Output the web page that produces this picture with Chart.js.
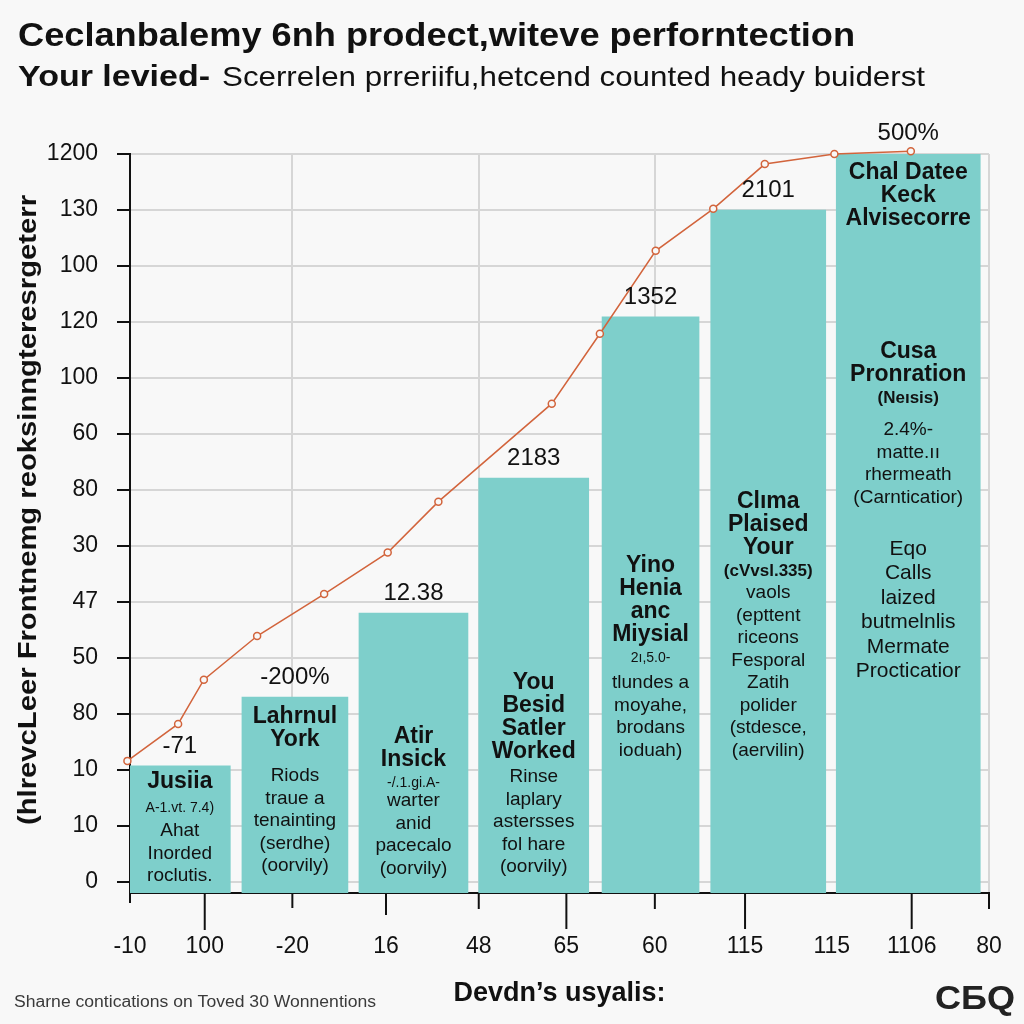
<!DOCTYPE html>
<html>
<head>
<meta charset="utf-8">
<script src="https://cdn.jsdelivr.net/npm/chart.js@4.4.0/dist/chart.umd.min.js"></script>
<style>
html, body { margin: 0; padding: 0; background: #f8f8f8; }
#wrap { width: 1024px; height: 1024px; }
</style>
</head>
<body>
<div id="wrap"><canvas id="chart" width="1024" height="1024"></canvas></div>
<script>
// ---- data ----
var yTickLabels = ["0", "10", "10", "80", "50", "47", "30", "80", "60", "100", "120", "100", "130", "1200"];
var xTickPos = [0, 8.7, 18.9, 29.8, 40.6, 50.8, 61.1, 71.6, 81.7, 91.0, 100];
var xTickLabels = ["-10", "100", "-20", "16", "48", "65", "60", "115", "115", "1106", "80"];

var barX = [5.8, 19.2, 33.0, 47.0, 60.6, 74.3, 90.6];
var barValues = [2.07, 3.30, 4.80, 7.21, 10.09, 12.0, 13.02];
var barLabels = ["-71", "-200%", "12.38", "2183", "1352", "2101", "500%"];

var lineX = [-0.3, 5.6, 8.6, 14.8, 22.6, 30.0, 35.9, 49.1, 54.7, 61.2, 67.9, 73.9, 82.0, 90.9];
var lineValues = [2.16, 2.82, 3.61, 4.39, 5.14, 5.88, 6.79, 8.54, 9.79, 11.27, 12.02, 12.82, 13.0, 13.05];

// text printed inside each bar (numbers = extra gap)
var barNotes = [
	[["h", "Jusiia"], 3, ["s", "A-1.vt. 7.4)"], 2, ["b", "Ahat"], ["b", "Inorded"], ["b", "roclutis."]],
	[["h", "Lahrnul"], ["h", "York"], 13, ["b", "Riods"], ["b", "traue a"], ["b", "tenainting"], ["b", "(serdhe)"], ["b", "(oorvily)"]],
	[["h", "Atir"], ["h", "Insick"], ["s", "-/.1.gi.A-"], -3, ["b", "warter"], ["b", "anid"], ["b", "pacecalo"], ["b", "(oorvily)"]],
	[["h", "You"], ["h", "Besid"], ["h", "Satler"], ["h", "Worked"], 2, ["b", "Rinse"], ["b", "laplary"], ["b", "astersses"], ["b", "fol hare"], ["b", "(oorvily)"]],
	[["h", "Yino"], ["h", "Henia"], ["h", "anc"], ["h", "Miysial"], ["s", "2ı,5.0-"], 4, ["b", "tlundes a"], ["b", "moyahe,"], ["b", "brodans"], ["b", "ioduah)"]],
	[["h", "Clıma"], ["h", "Plaised"], ["h", "Your"], ["hs", "(cVvsl.335)"], ["b", "vaols"], ["b", "(epttent"], ["b", "riceons"], ["b", "Fesporal"], ["b", "Zatih"], ["b", "polider"], ["b", "(stdesce,"], ["b", "(aervilin)"]],
	[["h", "Chal Datee"], ["h", "Keck"], ["h", "Alvisecorre"], 110, ["h", "Cusa"], ["h", "Pronration"], ["hs", "(Neısis)"], 10,
	 ["b", "2.4%-"], ["b", "matte.ıı"], ["b", "rhermeath"], ["b", "(Carnticatior)"], 29,
	 ["B", "Eqo"], ["B", "Calls"], ["B", "laized"], ["B", "butmelnlis"], ["B", "Mermate"], ["B", "Procticatior"]]
];

var titleText = "Ceclanbalemy 6nh prodect,witeve perforntection";
var subLead = "Your levied-";
var subText = "Scerrelen prreriifu,hetcend counted heady buiderst";
var yTitle = "(hlrevcLeer Frontnemg reoksinngteresrgeterr";
var xTitle = "Devdn\u2019s usyalis:";
var footText = "Sharne contications on Toved 30 Wonnentions";
var logoText = "C\u0411Q";

// ---- styles ----
var FONT = '"Liberation Sans", Arial, Helvetica, sans-serif';
var BAR_COLOR = '#7ecfcb';
var LINE_COLOR = '#d2643c';
var GRID_COLOR = '#d6d6d6';
var INK = '#111111';

var barPx = [101, 106, 109, 110, 97, 115, 144];
var noteTop = [16, 20, 124, 205, 249, 292, 20];
var xTickLen = [10, 37, 15, 22, 16, 36, 16, 36, 0, 36, 16];
var xGridShown = [2, 4, 6, 10];
var noteFonts = {
	h: ['bold 23px ' + FONT, 23],
	hs: ['bold 17px ' + FONT, 22],
	s: ['14px ' + FONT, 21],
	b: ['19px ' + FONT, 22.5],
	B: ['21px ' + FONT, 24.5]
};

Chart.defaults.font.family = FONT;

// draw text stretched/squeezed to a given width
function fitText(ctx, text, x, y, width) {
	var w = ctx.measureText(text).width;
	ctx.save();
	ctx.translate(x, y);
	ctx.scale(width / w, 1);
	ctx.fillText(text, 0, 0);
	ctx.restore();
}

var textPlugin = {
	id: 'texts',
	afterDatasetsDraw: function(chart) {
		var ctx = chart.ctx;
		ctx.save();
		ctx.fillStyle = INK;
		ctx.textAlign = 'center';
		ctx.textBaseline = 'middle';
		for (var i = 0; i < barX.length; i++) {
			var el = chart.getDatasetMeta(i + 1).data[0];
			ctx.font = '24px ' + FONT;
			ctx.fillText(barLabels[i], el.x, el.y - 20);
			var y = el.y + noteTop[i];
			barNotes[i].forEach(function(n) {
				if (typeof n === 'number') { y += n; return; }
				ctx.font = noteFonts[n[0]][0];
				ctx.fillText(n[1], el.x, y);
				y += noteFonts[n[0]][1];
			});
		}
		ctx.restore();
	},
	afterDraw: function(chart) {
		var ctx = chart.ctx;
		var xs = chart.scales.x;
		var bottom = chart.chartArea.bottom;
		ctx.save();
		// x tick marks of different lengths
		ctx.strokeStyle = INK;
		ctx.lineWidth = 2;
		xTickPos.forEach(function(v, i) {
			if (!xTickLen[i]) return;
			var px = xs.getPixelForValue(v);
			ctx.beginPath();
			ctx.moveTo(px, bottom);
			ctx.lineTo(px, bottom + xTickLen[i]);
			ctx.stroke();
		});
		ctx.textAlign = 'left';
		ctx.textBaseline = 'middle';
		ctx.fillStyle = INK;
		ctx.font = 'bold 33px ' + FONT;
		fitText(ctx, titleText, 18, 37, 837);
		ctx.font = 'bold 29px ' + FONT;
		fitText(ctx, subLead, 18, 78, 192);
		ctx.font = '28px ' + FONT;
		fitText(ctx, subText, 222, 78, 703);
		// y axis title
		ctx.save();
		ctx.translate(29, 510);
		ctx.rotate(-Math.PI / 2);
		ctx.font = 'bold 26px ' + FONT;
		ctx.textAlign = 'left';
		fitText(ctx, yTitle, -315, 0, 630);
		ctx.restore();
		ctx.fillStyle = '#3a3a3a';
		ctx.font = '16px ' + FONT;
		fitText(ctx, footText, 14, 1003, 362);
		ctx.fillStyle = '#222222';
		ctx.font = 'bold 34px ' + FONT;
		fitText(ctx, logoText, 935, 1000, 80);
		ctx.restore();
	}
};

var datasets = [{
	type: 'line',
	data: lineX.map(function(x, i) { return {x: x, y: lineValues[i]}; }),
	borderColor: LINE_COLOR,
	borderWidth: 1.5,
	tension: 0,
	pointRadius: 3.5,
	pointBackgroundColor: '#f8f8f8',
	pointBorderColor: LINE_COLOR,
	pointBorderWidth: 1.5,
	clip: false,
	order: 0
}];
barX.forEach(function(x, i) {
	datasets.push({
		type: 'bar',
		data: [{x: x, y: barValues[i]}],
		backgroundColor: BAR_COLOR,
		barThickness: barPx[i],
		grouped: false,
		base: -0.2,
		order: 1
	});
});

var chart = new Chart(document.getElementById('chart').getContext('2d'), {
	type: 'bar',
	data: {datasets: datasets},
	options: {
		responsive: false,
		animation: false,
		layout: {padding: {top: 154, right: 35, left: 0, bottom: 0}},
		plugins: {legend: {display: false}, tooltip: {enabled: false}},
		scales: {
			x: {
				type: 'linear',
				min: 0,
				max: 100,
				offset: false,
				afterBuildTicks: function(s) { s.ticks = xTickPos.map(function(v) { return {value: v}; }); },
				afterFit: function(s) {
					s.height = 131;
					s.paddingLeft = 0;
					s.paddingRight = 0;
				},
				ticks: {
					autoSkip: false,
					maxRotation: 0,
					padding: 40,
					color: INK,
					font: {size: 23},
					callback: function(v, i) { return xTickLabels[i]; }
				},
				grid: {
					offset: false,
					drawTicks: false,
					lineWidth: 2,
					color: function(c) { return xGridShown.indexOf(c.index) >= 0 ? GRID_COLOR : 'rgba(0,0,0,0)'; }
				},
				border: {color: INK, width: 2},
				title: {
					display: true,
					text: xTitle,
					color: INK,
					font: {size: 27, weight: 'bold'},
					padding: {top: 0, bottom: 14}
				}
			},
			y: {
				min: -0.2,
				max: 13,
				afterBuildTicks: function(s) { s.ticks = yTickLabels.map(function(t, i) { return {value: i}; }); },
				afterFit: function(s) {
					s.width = 130;
					s.paddingTop = 0;
					s.paddingBottom = 0;
				},
				ticks: {
					padding: 19,
					color: INK,
					font: {size: 23},
					callback: function(v, i) { return yTickLabels[i]; }
				},
				grid: {color: GRID_COLOR, lineWidth: 2, tickColor: INK, tickLength: 13, tickWidth: 2},
				border: {color: INK, width: 2}
			}
		}
	},
	plugins: [textPlugin]
});
</script>
</body>
</html>
